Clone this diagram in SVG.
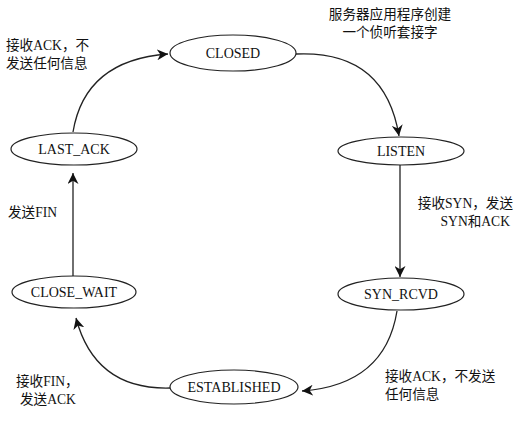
<svg xmlns="http://www.w3.org/2000/svg" width="527" height="421" viewBox="0 0 527 421">
<style>
.node ellipse{fill:#fff;stroke:#222;stroke-width:1.2}
.node text{font-family:"Liberation Serif","Noto Sans CJK SC",serif;font-size:14px;fill:#111;text-anchor:middle}
.lbl{font-family:"Liberation Serif","Noto Sans CJK SC",serif;font-size:13.6px;fill:#111}
.edge{fill:none;stroke:#222;stroke-width:1.3}
</style>
<defs>
<marker id="arr" viewBox="0 0 10 10" refX="10" refY="5" markerWidth="11" markerHeight="11" markerUnits="userSpaceOnUse" orient="auto">
<path d="M0,0 L10,5 L0,10 L3,5 z" fill="#111"/>
</marker>
</defs>
<rect width="527" height="421" fill="#fff"/>
<g id="connectors">
<path class="edge" d="M296,54 Q385,50 399,136" marker-end="url(#arr)"/>
<path class="edge" d="M400,165 L400,277" marker-end="url(#arr)"/>
<path class="edge" d="M397,311 Q385,385 302,391" marker-end="url(#arr)"/>
<path class="edge" d="M170,388 Q95,390 76,318" marker-end="url(#arr)"/>
<path class="edge" d="M73,276 L73,173" marker-end="url(#arr)"/>
<path class="edge" d="M73,132 Q85,60 168,54" marker-end="url(#arr)"/>
</g>
<g id="closed" class="node"><ellipse cx="233" cy="53" rx="63" ry="18"/><text x="233" y="58">CLOSED</text></g>
<g id="listen" class="node"><ellipse cx="401" cy="151" rx="63" ry="14"/><text x="401" y="156">LISTEN</text></g>
<g id="syn_rcvd" class="node"><ellipse cx="401" cy="294" rx="63" ry="16"/><text x="401" y="299">SYN_RCVD</text></g>
<g id="established" class="node"><ellipse cx="234" cy="387" rx="64" ry="17"/><text x="234" y="392">ESTABLISHED</text></g>
<g id="close_wait" class="node"><ellipse cx="74" cy="292" rx="62" ry="16"/><text x="74" y="297">CLOSE_WAIT</text></g>
<g id="last_ack" class="node"><ellipse cx="74" cy="149" rx="63" ry="16"/><text x="74" y="154">LAST_ACK</text></g>
<g id="labels">
<text class="lbl" x="390" y="19" text-anchor="middle">服务器应用程序创建</text>
<text class="lbl" x="390" y="37" text-anchor="middle">一个侦听套接字</text>
<text class="lbl" x="6" y="50">接收ACK，不</text>
<text class="lbl" x="6" y="68">发送任何信息</text>
<text class="lbl" x="8" y="217">发送FIN</text>
<text class="lbl" x="513" y="208" text-anchor="end">接收SYN，发送</text>
<text class="lbl" x="510" y="226" text-anchor="end">SYN和ACK</text>
<text class="lbl" x="385" y="381">接收ACK，不发送</text>
<text class="lbl" x="385" y="399">任何信息</text>
<text class="lbl" x="16" y="386">接收FIN，</text>
<text class="lbl" x="20" y="404">发送ACK</text>
</g>
</svg>
